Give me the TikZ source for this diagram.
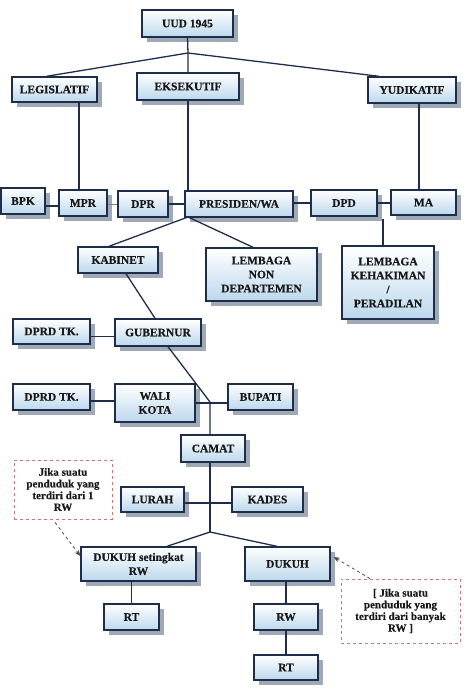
\documentclass[tikz,border=0pt]{standalone}
\usepackage{fontspec}
\setmainfont{Liberation Serif}[BoldFeatures={FakeBold=0.4}]
\usepackage{tikz}
\usetikzlibrary{shadows,arrows.meta}
\definecolor{boxline}{RGB}{30,45,75}
\definecolor{boxblue}{RGB}{188,216,236}
\definecolor{shadowgray}{RGB}{160,170,182}
\definecolor{notered}{RGB}{196,120,120}

\begin{document}
\begin{tikzpicture}
	[x=1pt,y=-1pt,
	unit/.style={draw=boxline,line width=1.4pt,top color=white,bottom color=boxblue,
		drop shadow={shadow xshift=5pt,shadow yshift=-5pt,fill=shadowgray,opacity=1},
		inner sep=0pt,align=center,text=black!90,
		font=\bfseries\fontsize{11.5}{14}\selectfont},
	note/.style={draw=notered,dashed,line width=0.8pt,fill=white,inner sep=0pt,
		align=center,text=black!90,font=\bfseries\fontsize{11}{11.7}\selectfont},
	link/.style={draw=boxline,line width=1.3pt},
	hint/.style={draw=black!70,dashed,line width=0.8pt,-{Stealth[length=6pt,width=5pt]}}]
	\useasboundingbox (0,0) rectangle (474,692);
	\node[unit,minimum width=91pt,minimum height=27pt] (uud) at (187.5,23.5) {UUD 1945};
	\node[unit,minimum width=85pt,minimum height=25pt] (legislatif) at (54.5,89.5) {LEGISLATIF};
	\node[unit,minimum width=102pt,minimum height=27pt] (eksekutif) at (188,86.5) {EKSEKUTIF};
	\node[unit,minimum width=88pt,minimum height=26pt] (yudikatif) at (412,90) {YUDIKATIF};
	\node[unit,minimum width=44pt,minimum height=26pt] (bpk) at (23,201) {BPK};
	\node[unit,minimum width=48pt,minimum height=26pt] (mpr) at (83,203) {MPR};
	\node[unit,minimum width=50pt,minimum height=26pt] (dpr) at (143,204) {DPR};
	\node[unit,minimum width=108pt,minimum height=26pt] (presiden) at (239,204) {PRESIDEN/WA};
	\node[unit,minimum width=66pt,minimum height=26pt] (dpd) at (344,203) {DPD};
	\node[unit,minimum width=65pt,minimum height=25pt] (ma) at (423.5,202.5) {MA};
	\node[unit,minimum width=80pt,minimum height=26pt] (kabinet) at (118,260) {KABINET};
	\node[unit,minimum width=111pt,minimum height=53pt] (lembaganon) at (261.5,274.5) {LEMBAGA\\NON\\DEPARTEMEN};
	\node[unit,minimum width=92pt,minimum height=73pt] (peradilan) at (388,282.5) {LEMBAGA\\KEHAKIMAN\\/\\PERADILAN};
	\node[unit,minimum width=77pt,minimum height=25pt] (dprdprov) at (51.5,331.5) {DPRD TK.};
	\node[unit,minimum width=86pt,minimum height=27pt] (gubernur) at (158,332.5) {GUBERNUR};
	\node[unit,minimum width=77pt,minimum height=26pt] (dprdkota) at (51.5,397) {DPRD TK.};
	\node[unit,minimum width=80pt,minimum height=38pt] (walikota) at (155,403) {WALI\\KOTA};
	\node[unit,minimum width=65pt,minimum height=26pt] (bupati) at (260.5,397) {BUPATI};
	\node[unit,minimum width=64pt,minimum height=27pt] (camat) at (213,448.5) {CAMAT};
	\node[unit,minimum width=63pt,minimum height=25pt] (lurah) at (152.5,499.5) {LURAH};
	\node[unit,minimum width=71pt,minimum height=25pt] (kades) at (267.5,499.5) {KADES};
	\node[unit,minimum width=115pt,minimum height=34pt] (dukuhrw) at (138.5,564) {DUKUH setingkat\\RW};
	\node[unit,minimum width=85pt,minimum height=34pt] (dukuh) at (287.5,564) {DUKUH};
	\node[unit,minimum width=55pt,minimum height=26pt] (rtsatu) at (131.5,617) {RT};
	\node[unit,minimum width=64pt,minimum height=26pt] (rw) at (286,617) {RW};
	\node[unit,minimum width=64pt,minimum height=25pt] (rtdua) at (286,667.5) {RT};
	\node[note,minimum width=98pt,minimum height=59pt] (notesatu) at (63,489.5) {Jika suatu\\penduduk yang\\terdiri dari 1\\RW};
	\node[note,minimum width=119pt,minimum height=64pt] (notedua) at (400.5,611) {[ Jika suatu\\penduduk yang\\terdiri dari banyak\\RW ]};
	\coordinate (uudjoin) at (188,53);
	\coordinate (mprtop) at (79,102);
	\coordinate (matop) at (419,103);
	\coordinate (presjoin) at (188,217);
	\coordinate (peradilantop) at (383,219);
	\coordinate (camatjoin) at (210,402);
	\coordinate (dukuhjoin) at (210,532);
	\draw[link] (uud.south) -- (uudjoin) -- (eksekutif.north);
	\draw[link] ([xshift=-8pt]legislatif.north) -- (uudjoin) -- ([xshift=-33pt]yudikatif.north);
	\draw[link] (mprtop) -- (mprtop |- mpr.north);
	\draw[link] (eksekutif.south) -- (eksekutif.south |- presiden.north);
	\draw[link] (matop) -- (matop |- ma.north);
	\draw[link] ([yshift=-5pt]bpk.east) -- ([yshift=-5pt]bpk.east -| mpr.west);
	\draw[draw=black!50,line width=0.6pt] ([yshift=-1pt]mpr.east) -- ([yshift=-1pt]mpr.east -| dpr.west);
	\draw[link] (dpr.east) -- (dpr.east -| presiden.west);
	\draw[link] ([yshift=1pt]presiden.east) -- ([yshift=1pt]presiden.east -| dpd.west);
	\draw[link] (dpd.east) -- (dpd.east -| ma.west);
	\draw[link] (peradilantop) -- (peradilantop |- peradilan.north);
	\draw[link] ([xshift=-9pt]kabinet.north) -- (presjoin) -- ([xshift=-8.5pt]lembaganon.north);
	\draw[link] ([xshift=8pt]kabinet.south) -- ([xshift=-3pt]gubernur.north);
	\draw[link] ([yshift=-5pt]dprdprov.east) -- ([yshift=-5pt]dprdprov.east -| gubernur.west);
	\draw[link] ([xshift=10pt]gubernur.south) -- (camatjoin) -- (camatjoin |- camat.north);
	\draw[link] ([yshift=-4pt]dprdkota.east) -- ([yshift=-4pt]dprdkota.east -| walikota.west);
	\draw[link] (walikota.east) -- (walikota.east -| bupati.west);
	\draw[link] (camatjoin |- camat.south) -- (dukuhjoin);
	\draw[link] ([yshift=-3.5pt]lurah.east) -- ([yshift=-3.5pt]lurah.east -| kades.west);
	\draw[link] ([xshift=28.5pt]dukuhrw.north) -- (dukuhjoin) -- ([xshift=-10.5pt]dukuh.north);
	\draw[link] (rtsatu.north |- dukuhrw.south) -- (rtsatu.north);
	\draw[link] (rw.north |- dukuh.south) -- (rw.north);
	\draw[link] (rw.south) -- (rtdua.north);
	\draw[hint] ([xshift=-8pt,yshift=-3pt]notesatu.south) -- ([yshift=8pt]dukuhrw.west);
	\draw[hint] ([xshift=-30.5pt]notedua.north) -- ([xshift=3pt,yshift=7pt]dukuh.east);
\end{tikzpicture}
\end{document}
